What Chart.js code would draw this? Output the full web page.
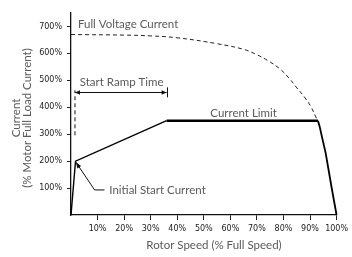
<!DOCTYPE html>
<html>
<head>
<meta charset="utf-8">
<script src="https://cdn.jsdelivr.net/npm/chart.js@4.4.0/dist/chart.umd.min.js"></script>
<style>
  html, body { margin: 0; padding: 0; background: #fff; }
</style>
</head>
<body>
<canvas id="grafico" width="352" height="257"></canvas>
<script>
// velocidad del rotor (% velocidad plena) vs corriente (% corriente plena carga)
const corrienteX = [0, 1.7, 36, 93, 93.6, 94.5, 95.9, 98.1, 100];
const corrienteY = [0, 200, 350, 350, 330, 290, 230, 104, 0];
const tensionX = [0, 20, 30, 40, 55, 65, 70, 74, 78.6, 82.3, 84.8, 87.9, 90.4, 92.2, 93];
const tensionY = [670, 668, 665, 658, 636, 615, 595, 574, 543, 506, 475, 438, 401, 364, 350];
const rampaX = [1.5, 1.5];
const rampaY = [296, 463];
const ticksX = [10, 20, 30, 40, 50, 60, 70, 80, 90, 100];
const ticksY = [100, 200, 300, 400, 500, 600, 700];

// anotaciones (en unidades de datos)
const flechaRampa = { x1: 1.5, x2: 36, y: 455, topeY1: 437, topeY2: 474 };
const guiaInicialX = [1.85, 8.9, 12.6];
const guiaInicialY = [196, 93, 93];
const etiquetas = [
  { text: "Full Voltage Current", x: 2.6, y: 707, align: "left" },
  { text: "Start Ramp Time", x: 3.3, y: 494, align: "left" },
  { text: "Current Limit", x: 65, y: 378, align: "center" },
  { text: "Initial Start Current", x: 14.4, y: 93, align: "left" },
];

const toPts = (xs, ys) => xs.map((v, i) => ({ x: v, y: ys[i] }));

function flecha(ctx, x, y, ang, len, half) {
  ctx.beginPath();
  ctx.moveTo(x, y);
  ctx.lineTo(x - len * Math.cos(ang) + half * Math.sin(ang), y - len * Math.sin(ang) - half * Math.cos(ang));
  ctx.lineTo(x - len * Math.cos(ang) - half * Math.sin(ang), y - len * Math.sin(ang) + half * Math.cos(ang));
  ctx.closePath();
  ctx.fill();
}

const anotaciones = {
  id: "anotaciones",
  afterDatasetsDraw(chart) {
    const { ctx, scales: { x, y } } = chart;
    const px = (v) => x.getPixelForValue(v);
    const py = (v) => y.getPixelForValue(v);
    ctx.save();
    ctx.strokeStyle = "#111";
    ctx.fillStyle = "#111";
    ctx.lineWidth = 1;

    // flecha de tiempo de rampa
    const fy = Math.round(py(flechaRampa.y)) + 0.5;
    ctx.beginPath();
    ctx.moveTo(px(flechaRampa.x1), fy);
    ctx.lineTo(px(flechaRampa.x2), fy);
    ctx.moveTo(Math.round(px(flechaRampa.x2)) + 0.5, py(flechaRampa.topeY1));
    ctx.lineTo(Math.round(px(flechaRampa.x2)) + 0.5, py(flechaRampa.topeY2));
    ctx.stroke();
    flecha(ctx, px(flechaRampa.x1), fy, Math.PI, 5, 2.2);
    flecha(ctx, px(flechaRampa.x2), fy, 0, 5, 2.2);

    // guia de corriente inicial
    ctx.beginPath();
    ctx.moveTo(px(guiaInicialX[0]), py(guiaInicialY[0]));
    for (let i = 1; i < guiaInicialX.length; i++) ctx.lineTo(px(guiaInicialX[i]), py(guiaInicialY[i]));
    ctx.stroke();
    const ang = Math.atan2(py(guiaInicialY[0]) - py(guiaInicialY[1]), px(guiaInicialX[0]) - px(guiaInicialX[1]));
    flecha(ctx, px(guiaInicialX[0]), py(guiaInicialY[0]), ang, 6, 2.3);

    // textos
    ctx.fillStyle = "#5a5a5a";
    ctx.font = "11.5px Lato";
    ctx.textBaseline = "middle";
    etiquetas.forEach((e) => {
      ctx.textAlign = e.align;
      ctx.fillText(e.text, px(e.x), py(e.y));
    });

    // titulos de ejes
    ctx.textAlign = "center";
    ctx.fillText("Rotor Speed (% Full Speed)", 214, 245);
    ctx.translate(16, 118);
    ctx.rotate(-Math.PI / 2);
    ctx.fillText("Current", 0, 0);
    ctx.fillText("(% Motor Full Load Current)", 0, 11);
    ctx.restore();
  },
};

const fuenteTicks = { family: "DejaVu Sans", size: 8 };

new Chart(document.getElementById("grafico"), {
  type: "line",
  data: {
    datasets: [
      {
        label: "Current",
        data: toPts(corrienteX, corrienteY),
        borderColor: "#000",
        borderWidth: 2.5,
        segment: {
          borderWidth: (c) => (c.p1DataIndex <= 2 ? 1.4 : c.p1DataIndex === 3 ? 2.5 : 1.8),
        },
        pointRadius: 0,
        tension: 0,
        clip: false,
      },
      {
        label: "Full Voltage Current",
        data: toPts(tensionX, tensionY),
        borderColor: "#222",
        borderWidth: 1,
        borderDash: [4, 3],
        pointRadius: 0,
        tension: 0.4,
      },
      {
        label: "Start Ramp",
        data: toPts(rampaX, rampaY),
        borderColor: "#111",
        borderWidth: 1,
        borderDash: [4, 3],
        pointRadius: 0,
      },
    ],
  },
  options: {
    responsive: false,
    animation: false,
    devicePixelRatio: 1,
    layout: { padding: { top: 13, right: 11, left: 0, bottom: 0 } },
    plugins: { legend: { display: false }, tooltip: { enabled: false } },
    scales: {
      x: {
        type: "linear",
        min: 0,
        max: 100,
        afterBuildTicks: (s) => { s.ticks = ticksX.map((v) => ({ value: v })); },
        afterFit: (s) => { s.height = 42; },
        ticks: {
          font: fuenteTicks,
          color: "#222",
          padding: 4,
          autoSkip: false,
          maxRotation: 0,
          callback: (v) => v + "%",
        },
        grid: { drawOnChartArea: false, tickLength: 5, color: "#222" },
        border: { color: "#111", width: 1.3 },
      },
      y: {
        type: "linear",
        min: 0,
        max: 750,
        afterBuildTicks: (s) => { s.ticks = ticksY.map((v) => ({ value: v })); },
        afterFit: (s) => { s.width = 71; },
        ticks: {
          font: fuenteTicks,
          color: "#222",
          padding: 5,
          autoSkip: false,
          callback: (v) => v + "%",
        },
        grid: { drawOnChartArea: false, tickLength: 4, color: "#222" },
        border: { color: "#111", width: 1.3 },
      },
    },
  },
  plugins: [anotaciones],
});
</script>
</body>
</html>
